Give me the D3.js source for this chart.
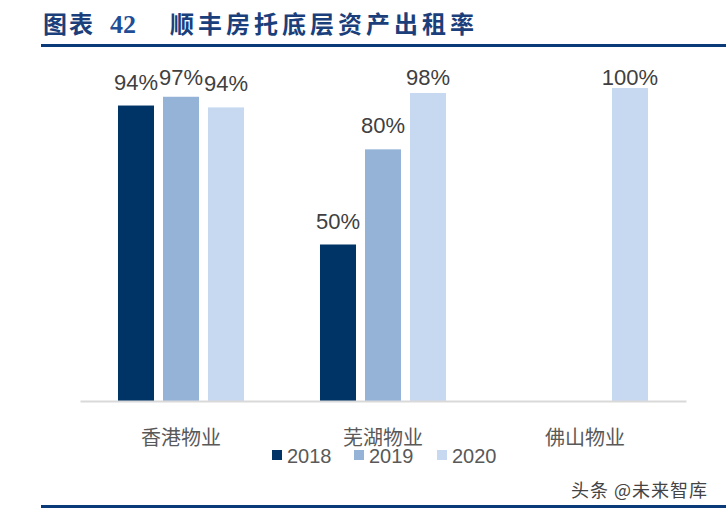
<!DOCTYPE html>
<html><head><meta charset="utf-8">
<script src="https://cdn.jsdelivr.net/npm/d3@7/dist/d3.min.js"></script>
<style>body{margin:0;background:#fff}svg{display:block}</style>
</head><body><div id="chart"></div>
<script>
const categories = ["香港物业", "芜湖物业", "佛山物业"];
const seriesNames = ["2018", "2019", "2020"];
const values2018 = [94.4, 50, null];
const values2019 = [97.2, 80.4, null];
const values2020 = [93.8, 98.4, 100];
const seriesValues = [values2018, values2019, values2020];
const colors = ["#003366", "#95B3D7", "#C6D9F1"];

const W = 726, H = 510;
const svg = d3.select("#chart").append("svg").attr("width", W).attr("height", H);

// title
const titleColor = "#1B3F7B";
svg.append("text").attr("x", 43).attr("y", 33)
  .attr("font-family", "'Noto Sans CJK SC', sans-serif").attr("font-weight", "bold")
  .attr("font-size", 24).attr("letter-spacing", 2).attr("fill", titleColor).text("图表");
svg.append("text").attr("x", 110).attr("y", 33)
  .attr("font-family", "'Liberation Serif', serif").attr("font-weight", "bold")
  .attr("font-size", 26).attr("fill", "#1F4E96").text("42");
svg.append("text").attr("x", 170).attr("y", 33)
  .attr("font-family", "'Noto Sans CJK SC', sans-serif").attr("font-weight", "bold")
  .attr("font-size", 24).attr("letter-spacing", 4).attr("fill", titleColor).text("顺丰房托底层资产出租率");
svg.append("rect").attr("x", 41).attr("y", 44).attr("width", W - 41).attr("height", 3).attr("fill", "#0B3A78");
svg.append("rect").attr("x", 41).attr("y", 505).attr("width", W - 41).attr("height", 3).attr("fill", "#0B3A78");

const left = 80, right = 686, baseline = 401;
const x0 = d3.scaleBand().domain(categories).range([left, right]).padding(0);
const x1 = d3.scaleBand().domain(seriesNames).range([0, x0.bandwidth()]).paddingInner(0.2).paddingOuter(0.844);
const y = d3.scaleLinear().domain([0, 100]).range([baseline, 88]);
const fmt = v => Math.round(v) + "%";

const g = svg.append("g");
seriesNames.forEach((s, si) => {
  categories.forEach((c, ci) => {
    const v = seriesValues[si][ci];
    if (v == null) return;
    const bx = x0(c) + x1(s);
    g.append("rect").attr("x", bx).attr("y", y(v)).attr("width", x1.bandwidth())
      .attr("height", baseline - y(v)).attr("fill", colors[si]);
    g.append("text").attr("x", bx + x1.bandwidth() / 2).attr("y", Math.max(y(v) - 16, 85))
      .attr("text-anchor", "middle").attr("font-family", "'Liberation Sans', Arial, sans-serif")
      .attr("font-size", 22).attr("fill", "#404040").text(fmt(v));
  });
});

// axis
const axis = d3.axisBottom(x0).tickSize(0).tickPadding(0);
const ax = svg.append("g").attr("transform", `translate(0,${baseline})`).call(axis);
ax.select(".domain").attr("stroke", "#D9D9D9").attr("stroke-width", 2);
ax.selectAll(".tick text").attr("dy", 0).attr("y", 44)
  .attr("font-family", "'Noto Sans CJK SC', sans-serif").attr("font-size", 20).attr("fill", "#595959");

// legend
const legX = [272, 354, 437];
seriesNames.forEach((s, i) => {
  svg.append("rect").attr("x", legX[i]).attr("y", 450).attr("width", 10).attr("height", 10).attr("fill", colors[i]);
  svg.append("text").attr("x", legX[i] + 15).attr("y", 463)
    .attr("font-family", "'Liberation Sans', Arial, sans-serif").attr("font-size", 20)
    .attr("fill", "#595959").text(s);
});

// watermark
svg.append("text").attr("x", 708).attr("y", 497).attr("text-anchor", "end")
  .attr("font-family", "'Noto Sans CJK SC', sans-serif").attr("font-size", 18).attr("letter-spacing", 1).attr("fill", "#444")
  .text("头条 @未来智库");
</script></body></html>
